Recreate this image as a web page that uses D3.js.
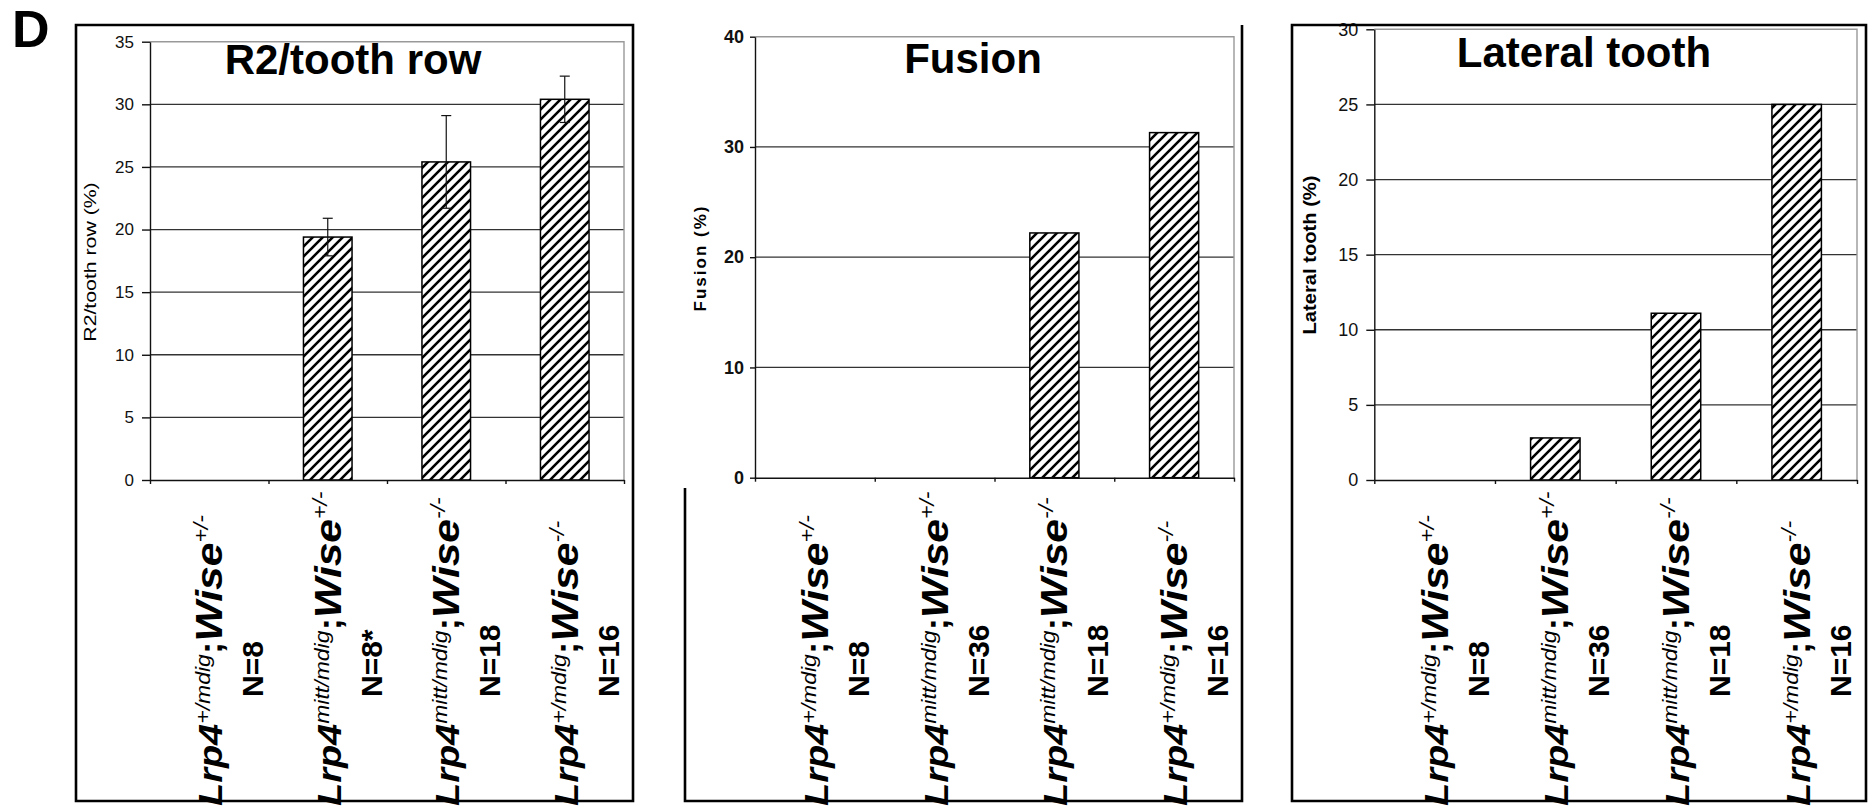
<!DOCTYPE html>
<html>
<head>
<meta charset="utf-8">
<script src="https://cdn.jsdelivr.net/npm/d3@7"></script>
<style>
  body { margin: 0; background: #fff; }
  svg { display: block; font-family: Arial, "Liberation Sans", sans-serif; }
</style>
</head>
<body>
<svg id="figure"></svg>
<script>
// genotype groups, same order in all three panels
const lrp4Alleles = ['+/mdig', 'mitt/mdig', 'mitt/mdig', '+/mdig'];
const wiseAlleles = ['+/-', '+/-', '-/-', '-/-'];
const r2Counts = ['N=8', 'N=8*', 'N=18', 'N=16'];
const otherCounts = ['N=8', 'N=36', 'N=18', 'N=16'];

// percentages
const r2Values = [0, 19.4, 25.4, 30.4];
const r2Errors = [0, 1.5, 3.7, 1.85];
const fusionValues = [0, 0, 22.2, 31.3];
const lateralValues = [0, 2.8, 11.1, 25];

const r2Ticks = [0, 5, 10, 15, 20, 25, 30, 35];
const fusionTicks = [0, 10, 20, 30, 40];
const lateralTicks = [0, 5, 10, 15, 20, 25, 30];

const svg = d3.select('#figure').attr('width', 1874).attr('height', 810);

// diagonal hatch used by every bar
const defs = svg.append('defs');
defs.append('pattern')
    .attr('id', 'hatch')
    .attr('patternUnits', 'userSpaceOnUse')
    .attr('width', 10)
    .attr('height', 10)
  .call(p => p.append('rect').attr('width', 10).attr('height', 10).attr('fill', '#fff'))
  .append('path')
    .attr('d', 'M-2.5,2.5 l5,-5 M0,10 l10,-10 M7.5,12.5 l5,-5')
    .attr('stroke', '#000')
    .attr('stroke-width', 2.6);

svg.append('text')
    .attr('x', 12)
    .attr('y', 47)
    .style('font-size', '52px')
    .style('font-weight', 'bold')
    .text('D');

class BarPanel {

  constructor(_config, values, errors, counts) {
    this.config = _config;
    this.values = values;
    this.errors = errors;
    this.counts = counts;
    this.initVis();
  }

  initVis() {
    let vis = this;
    const c = vis.config;

    vis.g = svg.append('g');

    vis.xBand = d3.scaleBand()
        .domain(d3.range(vis.values.length))
        .range([c.plot.left, c.plot.right]);

    // boundaries between groups, for the x tick marks
    vis.xEdge = d3.scaleLinear()
        .domain([0, vis.values.length])
        .range([c.plot.left, c.plot.right]);

    vis.yScale = d3.scaleLinear()
        .domain([0, d3.max(c.ticks)])
        .range([c.plot.bottom, c.plot.top]);

    const yMax = d3.max(c.ticks);

    // gridlines
    vis.g.selectAll('.grid')
      .data(c.ticks.filter(t => t > 0 && t < yMax))
      .join('line')
        .attr('x1', c.plot.left)
        .attr('x2', c.plot.right)
        .attr('y1', d => vis.yScale(d))
        .attr('y2', d => vis.yScale(d))
        .attr('stroke', '#333')
        .attr('stroke-width', 1.3);

    // light plot frame on top and right
    vis.g.append('path')
        .attr('d', `M${c.plot.left},${vis.yScale(yMax)}H${c.plot.right}V${vis.yScale(0)}`)
        .attr('fill', 'none')
        .attr('stroke', '#999')
        .attr('stroke-width', 1.4);

    // bars
    const barW = vis.xBand.bandwidth() * 0.41;
    const barData = vis.values.map((v, i) => ({ i, v })).filter(d => d.v > 0);
    vis.g.selectAll('.bar')
      .data(barData)
      .join('rect')
        .attr('x', d => vis.xBand(d.i) + (vis.xBand.bandwidth() - barW) / 2)
        .attr('y', d => vis.yScale(d.v))
        .attr('width', barW)
        .attr('height', d => vis.yScale(0) - vis.yScale(d.v))
        .attr('fill', 'url(#hatch)')
        .attr('stroke', '#000')
        .attr('stroke-width', 1.5);

    // error bars
    if (vis.errors) {
      const errData = barData.filter(d => vis.errors[d.i] > 0);
      const cx = d => vis.xBand(d.i) + vis.xBand.bandwidth() / 2;
      const eg = vis.g.selectAll('.err').data(errData).join('g')
          .attr('stroke', '#111')
          .attr('stroke-width', 1.2);
      eg.append('line')
          .attr('x1', cx).attr('x2', cx)
          .attr('y1', d => vis.yScale(d.v + vis.errors[d.i]))
          .attr('y2', d => vis.yScale(d.v - vis.errors[d.i]));
      eg.append('line')
          .attr('x1', d => cx(d) - 5).attr('x2', d => cx(d) + 5)
          .attr('y1', d => vis.yScale(d.v + vis.errors[d.i]))
          .attr('y2', d => vis.yScale(d.v + vis.errors[d.i]));
      eg.append('line')
          .attr('x1', d => cx(d) - 5).attr('x2', d => cx(d) + 5)
          .attr('y1', d => vis.yScale(d.v - vis.errors[d.i]))
          .attr('y2', d => vis.yScale(d.v - vis.errors[d.i]));
    }

    // axes
    vis.yAxisG = vis.g.append('g')
        .attr('transform', `translate(${c.plot.left},0)`)
        .call(d3.axisLeft(vis.yScale).tickValues(c.ticks).tickSize(c.tickLen).tickSizeOuter(0).tickPadding(c.tickPad));
    vis.yAxisG.selectAll('text')
        .attr('fill', '#111')
        .style('font-size', c.tickFont.size)
        .style('font-weight', c.tickFont.weight)
        .style('font-family', c.tickFont.family);

    vis.xAxisG = vis.g.append('g')
        .attr('transform', `translate(0,${c.plot.bottom})`)
        .call(d3.axisBottom(vis.xEdge).tickValues(d3.range(vis.values.length + 1)).tickSize(4).tickSizeOuter(0).tickFormat(''));

    vis.g.selectAll('.domain, .tick line')
        .attr('stroke', '#111')
        .attr('stroke-width', 1.4);

    // title inside the plot
    vis.g.append('text')
        .attr('x', c.title.x)
        .attr('y', c.title.y)
        .attr('text-anchor', 'middle')
        .style('font-size', '42px')
        .style('font-weight', 'bold')
        .text(c.title.text);

    // y axis title
    vis.g.append('text')
        .attr('transform', `translate(${c.yLabel.x},${c.yLabel.y}) rotate(-90) scale(${c.yLabel.stretch},1)`)
        .attr('text-anchor', 'middle')
        .attr('dy', '0.35em')
        .style('font-size', c.yLabel.size)
        .style('font-weight', c.yLabel.weight)
        .style('letter-spacing', c.yLabel.spacing)
        .text(c.yLabel.text);

    // genotype labels under the axis (drawn a bit stretched along the text, like the original)
    const lab = vis.g.selectAll('.xlabel')
      .data(d3.range(vis.values.length))
      .join('g')
        .attr('transform', i => `translate(${vis.xBand(i) + vis.xBand.bandwidth() / 2},0)`);

    const line1 = lab.append('text')
        .attr('transform', `translate(13,806) rotate(-90) scale(1.15,1)`)
        .style('font-weight', 'bold')
        .style('font-style', 'italic')
        .style('font-size', '33px');
    line1.append('tspan').text('Lrp4');
    line1.append('tspan')
        .attr('dy', -12)
        .style('font-weight', 'normal')
        .style('font-size', '20px')
        .text(i => lrp4Alleles[i]);
    line1.append('tspan')
        .attr('dy', 12)
        .style('font-style', 'normal')
        .text(';');
    line1.append('tspan')
        .style('font-size', '37px')
        .text('Wise');
    line1.append('tspan')
        .attr('dy', -14)
        .style('font-weight', 'normal')
        .style('font-size', '20px')
        .text(i => wiseAlleles[i]);

    lab.append('text')
        .attr('transform', `translate(54,697) rotate(-90)`)
        .style('font-weight', 'bold')
        .style('font-size', '30px')
        .text(i => vis.counts[i]);

    // panel frame
    vis.g.append('path')
        .attr('d', c.frame)
        .attr('fill', 'none')
        .attr('stroke', '#000')
        .attr('stroke-width', 2.6);
  }
}

new BarPanel({
  plot: { left: 150, right: 624, top: 41.7, bottom: 480 },
  ticks: r2Ticks,
  tickLen: 8, tickPad: 8,
  tickFont: { size: '17px', weight: 'normal', family: 'Arial, "Liberation Sans", sans-serif' },
  title: { text: 'R2/tooth row', x: 353, y: 74 },
  yLabel: { text: 'R2/tooth row (%)', x: 90, y: 262, size: '17px', weight: 'normal', spacing: '0px', stretch: 1.25 },
  frame: 'M76,25H633V801H76Z'
}, r2Values, r2Errors, r2Counts);

new BarPanel({
  plot: { left: 755, right: 1234, top: 36.7, bottom: 477.7 },
  ticks: fusionTicks,
  tickLen: 5, tickPad: 6,
  tickFont: { size: '18px', weight: 'bold', family: '"Liberation Sans Narrow", "Arial Narrow", Arial, sans-serif' },
  title: { text: 'Fusion', x: 973, y: 73 },
  yLabel: { text: 'Fusion (%)', x: 700, y: 258, size: '17px', weight: 'bold', spacing: '2px', stretch: 1 },
  frame: 'M685,488V801H1242V25'
}, fusionValues, null, otherCounts);

new BarPanel({
  plot: { left: 1374.3, right: 1857, top: 29.3, bottom: 480 },
  ticks: lateralTicks,
  tickLen: 8, tickPad: 8,
  tickFont: { size: '18px', weight: 'normal', family: 'Arial, "Liberation Sans", sans-serif' },
  title: { text: 'Lateral tooth', x: 1584, y: 67 },
  yLabel: { text: 'Lateral tooth (%)', x: 1310, y: 255, size: '18px', weight: 'bold', spacing: '0px', stretch: 1.12 },
  frame: 'M1292,25H1866V801H1292Z'
}, lateralValues, null, otherCounts);
</script>
</body>
</html>
